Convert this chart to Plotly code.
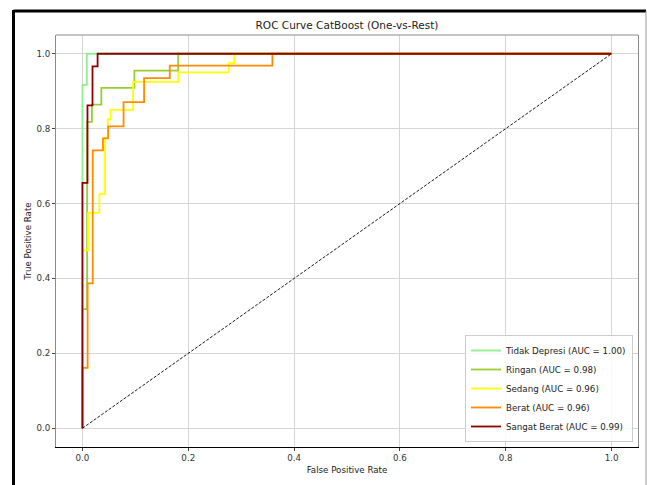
import plotly.graph_objects as go

# ---------------- data ----------------
classes = ["Tidak Depresi", "Ringan", "Sedang", "Berat", "Sangat Berat"]
auc_values = [1.00, 0.98, 0.96, 0.96, 0.99]

tidak_fpr = [0.0, 0.0, 0.0082, 0.0082, 1.0]
tidak_tpr = [0.0, 0.9167, 0.9167, 1.0, 1.0]

ringan_fpr = [0.0, 0.0, 0.0089, 0.0089, 0.0179, 0.0179, 0.0357, 0.0357, 0.0982, 0.0982, 0.181, 0.181, 1.0]
ringan_tpr = [0.0, 0.318, 0.318, 0.818, 0.818, 0.864, 0.864, 0.909, 0.909, 0.955, 0.955, 1.0, 1.0]

sedang_fpr = [0.0, 0.0, 0.0106, 0.0106, 0.0319, 0.0319, 0.0426, 0.0426, 0.0479, 0.0479, 0.0532, 0.0532,
              0.0957, 0.0957, 0.181, 0.181, 0.2766, 0.2766, 0.287, 0.287, 1.0]
sedang_tpr = [0.0, 0.475, 0.475, 0.575, 0.575, 0.625, 0.625, 0.775, 0.775, 0.825, 0.825, 0.85,
              0.85, 0.925, 0.925, 0.95, 0.95, 0.975, 0.975, 1.0, 1.0]

berat_fpr = [0.0, 0.0, 0.0097, 0.0097, 0.0194, 0.0194, 0.0388, 0.0388, 0.0485, 0.0485, 0.0777, 0.0777,
             0.1165, 0.1165, 0.165, 0.165, 0.359, 0.359, 1.0]
berat_tpr = [0.0, 0.161, 0.161, 0.387, 0.387, 0.742, 0.742, 0.774, 0.774, 0.806, 0.806, 0.871,
             0.871, 0.935, 0.935, 0.968, 0.968, 1.0, 1.0]

sangat_fpr = [0.0, 0.0, 0.0095, 0.0095, 0.019, 0.019, 0.0286, 0.0286, 1.0]
sangat_tpr = [0.0, 0.655, 0.655, 0.862, 0.862, 0.966, 0.966, 1.0, 1.0]

chance_x = [0.0, 1.0]
chance_y = [0.0, 1.0]

tick_values = [0.0, 0.2, 0.4, 0.6, 0.8, 1.0]

# ---------------- styling ----------------
colors = ["#90EE90", "#9ACD32", "#FFFF00", "#FF8C00", "#8B0000"]
curves = [(tidak_fpr, tidak_tpr), (ringan_fpr, ringan_tpr), (sedang_fpr, sedang_tpr),
          (berat_fpr, berat_tpr), (sangat_fpr, sangat_tpr)]

W, H = 647, 485
ML, MR, MT, MB = 56, 9, 35, 38
PW, PH = W - ML - MR, H - MT - MB


def px_u(px):
    return (px - ML) / PW


def py_v(py):
    return (H - MB - py) / PH


FONT = "DejaVu Sans"

fig = go.Figure()
for (fx, fy), name, auc, col in zip(curves, classes, auc_values, colors):
    fig.add_trace(go.Scatter(
        x=fx, y=fy, mode="lines",
        name=f"{name} (AUC = {auc:.2f})",
        line=dict(color=col, width=1.8),
        hoverinfo="skip",
    ))

fig.add_trace(go.Scatter(
    x=chance_x, y=chance_y, mode="lines", showlegend=False,
    line=dict(color="black", width=0.9, dash="3px,1.6px"),
    hoverinfo="skip",
))

axis_common = dict(
    range=[-0.05, 1.05],
    tickvals=tick_values,
    tickformat=".1f",
    showgrid=True, gridcolor="#d6d6d6", gridwidth=0.8,
    zeroline=False,
    ticks="outside", ticklen=3, tickwidth=0.8, tickcolor="#444",
    tickfont=dict(family=FONT, size=8.7, color="#333"),
    automargin=False,
)

fig.update_layout(
    width=W, height=H,
    margin=dict(l=ML, r=MR, t=MT, b=MB, pad=0),
    paper_bgcolor="white", plot_bgcolor="white",
    font=dict(family=FONT, color="#222"),
    title=dict(text="ROC Curve CatBoost (One-vs-Rest)", x=px_u(347), xref="paper",
               y=1 - 25 / H, yref="container", xanchor="center", yanchor="middle",
               font=dict(family=FONT, size=10.5, color="#222")),
    xaxis=dict(**axis_common, showline=True, linecolor="black", linewidth=1, mirror=False,
               title=dict(text="False Positive Rate", standoff=4,
                          font=dict(family=FONT, size=8.7, color="#222"))),
    yaxis=dict(**axis_common, showline=True, linecolor="#8a8a8a", linewidth=1, mirror=True,
               title=dict(text="True Positive Rate", standoff=3,
                          font=dict(family=FONT, size=8.7, color="#222"))),
    legend=dict(x=px_u(633), y=py_v(442), xanchor="right", yanchor="bottom",
                bgcolor="rgba(255,255,255,0.85)", bordercolor="#cccccc", borderwidth=1,
                font=dict(family=FONT, size=8.7, color="#222"),
                itemwidth=30, tracegroupgap=0),
    showlegend=True,
    shapes=[
        # top spine
        dict(type="line", xref="paper", yref="paper", x0=0, x1=1, y0=1, y1=1,
             line=dict(color="#8a8a8a", width=1)),
        # outer frame of the picture
        dict(type="line", xref="paper", yref="paper", x0=px_u(13.5), x1=px_u(646),
             y0=py_v(11), y1=py_v(11), line=dict(color="black", width=3)),
        dict(type="line", xref="paper", yref="paper", x0=px_u(13.5), x1=px_u(13.5),
             y0=py_v(10), y1=py_v(490), line=dict(color="black", width=3)),
        dict(type="line", xref="paper", yref="paper", x0=px_u(646), x1=px_u(646),
             y0=py_v(11), y1=py_v(490), line=dict(color="#9a9a9a", width=1)),
    ],
)

fig.write_html(
    "out.html",
    config={"displayModeBar": False},
    post_script="document.body.style.margin='0';document.body.style.padding='0';",
)
